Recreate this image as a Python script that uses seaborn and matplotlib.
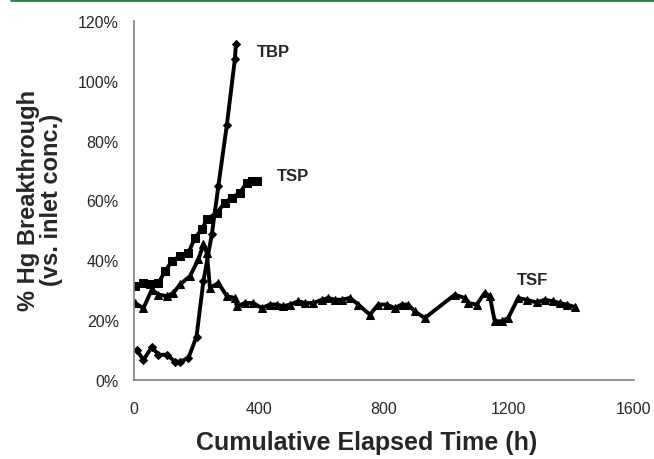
import numpy as np
import pandas as pd
import matplotlib
matplotlib.use("Agg")
import matplotlib.pyplot as plt
import seaborn as sns
from matplotlib.ticker import PercentFormatter

# breakthrough data (hours, fraction of inlet conc.)
tbp_t = [8, 30, 57, 78, 105, 131, 147, 174, 200, 222, 249, 270, 297, 323, 326]
tbp_y = [0.10, 0.067, 0.11, 0.084, 0.084, 0.061, 0.061, 0.073, 0.145, 0.33,
         0.487, 0.649, 0.852, 1.074, 1.124]

tsp_t = [3, 30, 51, 78, 99, 121, 147, 174, 195, 217, 233, 265, 291, 313, 339,
         361, 377, 393]
tsp_y = [0.313, 0.324, 0.319, 0.324, 0.363, 0.397, 0.414, 0.425, 0.475, 0.503,
         0.537, 0.559, 0.593, 0.609, 0.626, 0.66, 0.665, 0.665]

tsf_t = [3, 30, 57, 78, 105, 126, 147, 179, 206, 222, 233, 243, 270, 297, 323,
         329, 355, 382, 409, 435, 457, 478, 499, 526, 547, 574, 601, 622, 643,
         665, 691, 718, 755, 782, 809, 835, 857, 878, 899, 931, 1027, 1059,
         1070, 1097, 1123, 1139, 1155, 1177, 1198, 1230, 1257, 1289, 1315,
         1342, 1363, 1385, 1411]
tsf_y = [0.257, 0.24, 0.302, 0.285, 0.28, 0.291, 0.319, 0.347, 0.403, 0.453,
         0.425, 0.308, 0.324, 0.28, 0.274, 0.246, 0.257, 0.257, 0.24, 0.252,
         0.252, 0.246, 0.252, 0.263, 0.257, 0.257, 0.268, 0.274, 0.268, 0.268,
         0.274, 0.252, 0.218, 0.252, 0.252, 0.24, 0.252, 0.252, 0.229, 0.207,
         0.285, 0.274, 0.257, 0.252, 0.291, 0.28, 0.196, 0.196, 0.207, 0.274,
         0.268, 0.259, 0.268, 0.263, 0.257, 0.252, 0.244]

sns.set_style("white")
plt.rcParams['font.family'] = ['Liberation Sans', 'DejaVu Sans']

fig = plt.figure(figsize=(6.54, 4.6), dpi=100)
ax = fig.add_axes([0.205, 0.172, 0.764, 0.78])

series = [("TBP", tbp_t, tbp_y, "D", 4.5),
          ("TSP", tsp_t, tsp_y, "s", 5.5),
          ("TSF", tsf_t, tsf_y, "^", 5.5)]
for name, t, y, m, ms in series:
    df = pd.DataFrame({"t": t, "y": y})
    sns.lineplot(data=df, x="t", y="y", ax=ax, color="black", lw=2.8,
                 marker=m, markersize=ms, markeredgecolor="black", sort=False)

ax.text(394, 1.097, "TBP", fontsize=12, fontweight="bold", va="center")
ax.text(458, 0.685, "TSP", fontsize=12, fontweight="bold", va="center")
ax.text(1226, 0.336, "TSF", fontsize=12, fontweight="bold", va="center")

ax.set_xlim(0, 1600)
ax.set_ylim(0, 1.2)
ax.set_xticks([0, 400, 800, 1200, 1600])
ax.set_yticks(np.arange(0, 1.21, 0.2))
ax.yaxis.set_major_formatter(PercentFormatter(1.0, decimals=0))
ax.tick_params(direction="in", length=5, width=1, color="#808080",
               labelsize=11.5, pad=11)
ax.tick_params(axis="x", pad=15)
for s in ["top", "right"]:
    ax.spines[s].set_visible(False)
for s in ["left", "bottom"]:
    ax.spines[s].set_color("#808080")
    ax.spines[s].set_linewidth(1.2)
ax.set_xlabel("")
ax.set_ylabel("")

fig.text(0.561, 0.036, "Cumulative Elapsed Time (h)", fontsize=18,
         fontweight="bold", ha="center", va="center")
fig.text(0.0615, 0.565, "% Hg Breakthrough\n(vs. inlet conc.)", fontsize=17,
         fontweight="bold", ha="center", va="center", rotation=90,
         multialignment="center", linespacing=1.0)

fig.add_artist(plt.Line2D([0.017, 1.0], [0.998, 0.998], color="#2e7d4f", lw=2))

fig.savefig("out.png", dpi=100)
